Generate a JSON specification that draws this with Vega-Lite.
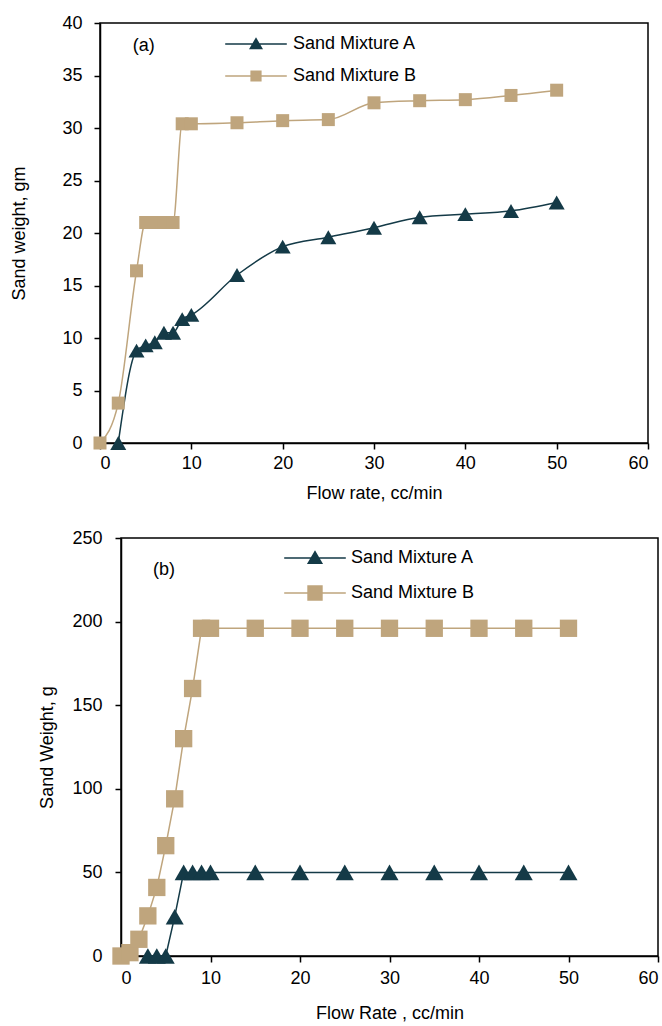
{
  "$schema": "https://vega.github.io/schema/vega-lite/v6.json",
  "padding": {"left": 0, "top": 13, "right": 0, "bottom": 0},
  "background": "white",
  "config": {
    "font": "Liberation Sans",
    "view": {"stroke": null},
    "axis": {
      "labelFont": "Liberation Sans", "labelFontSize": 18, "labelColor": "#000",
      "titleFont": "Liberation Sans", "titleFontSize": 18, "titleFontWeight": "normal", "titleColor": "#000",
      "domainColor": "#000", "domainWidth": 1.5, "tickColor": "#000", "tickWidth": 1.5, "tickSize": 6, "grid": false
    }
  },
  "datasets": {
    "top": [
      {"series": "Sand Mixture B", "flow": 0, "weight": 0},
      {"series": "Sand Mixture B", "flow": 2, "weight": 3.8},
      {"series": "Sand Mixture B", "flow": 4, "weight": 16.4},
      {"series": "Sand Mixture B", "flow": 5, "weight": 21},
      {"series": "Sand Mixture B", "flow": 6, "weight": 21},
      {"series": "Sand Mixture B", "flow": 7, "weight": 21},
      {"series": "Sand Mixture B", "flow": 8, "weight": 21},
      {"series": "Sand Mixture B", "flow": 9, "weight": 30.4},
      {"series": "Sand Mixture B", "flow": 10, "weight": 30.4},
      {"series": "Sand Mixture B", "flow": 15, "weight": 30.5},
      {"series": "Sand Mixture B", "flow": 20, "weight": 30.7},
      {"series": "Sand Mixture B", "flow": 25, "weight": 30.8},
      {"series": "Sand Mixture B", "flow": 30, "weight": 32.4},
      {"series": "Sand Mixture B", "flow": 35, "weight": 32.6},
      {"series": "Sand Mixture B", "flow": 40, "weight": 32.7},
      {"series": "Sand Mixture B", "flow": 45, "weight": 33.1},
      {"series": "Sand Mixture B", "flow": 50, "weight": 33.6},
      {"series": "Sand Mixture A", "flow": 2, "weight": 0},
      {"series": "Sand Mixture A", "flow": 4, "weight": 8.8},
      {"series": "Sand Mixture A", "flow": 5, "weight": 9.3},
      {"series": "Sand Mixture A", "flow": 6, "weight": 9.6},
      {"series": "Sand Mixture A", "flow": 7, "weight": 10.5},
      {"series": "Sand Mixture A", "flow": 8, "weight": 10.5},
      {"series": "Sand Mixture A", "flow": 9, "weight": 11.8},
      {"series": "Sand Mixture A", "flow": 10, "weight": 12.2},
      {"series": "Sand Mixture A", "flow": 15, "weight": 16.0},
      {"series": "Sand Mixture A", "flow": 20, "weight": 18.7},
      {"series": "Sand Mixture A", "flow": 25, "weight": 19.6},
      {"series": "Sand Mixture A", "flow": 30, "weight": 20.5},
      {"series": "Sand Mixture A", "flow": 35, "weight": 21.5},
      {"series": "Sand Mixture A", "flow": 40, "weight": 21.8},
      {"series": "Sand Mixture A", "flow": 45, "weight": 22.1},
      {"series": "Sand Mixture A", "flow": 50, "weight": 22.9}
    ],
    "bottom": [
      {"series": "Sand Mixture B", "flow": 0, "weight": 0},
      {"series": "Sand Mixture B", "flow": 1, "weight": 2},
      {"series": "Sand Mixture B", "flow": 2, "weight": 10},
      {"series": "Sand Mixture B", "flow": 3, "weight": 24},
      {"series": "Sand Mixture B", "flow": 4, "weight": 41},
      {"series": "Sand Mixture B", "flow": 5, "weight": 66},
      {"series": "Sand Mixture B", "flow": 6, "weight": 94},
      {"series": "Sand Mixture B", "flow": 7, "weight": 130},
      {"series": "Sand Mixture B", "flow": 8, "weight": 160},
      {"series": "Sand Mixture B", "flow": 9, "weight": 196},
      {"series": "Sand Mixture B", "flow": 10, "weight": 196},
      {"series": "Sand Mixture B", "flow": 15, "weight": 196},
      {"series": "Sand Mixture B", "flow": 20, "weight": 196},
      {"series": "Sand Mixture B", "flow": 25, "weight": 196},
      {"series": "Sand Mixture B", "flow": 30, "weight": 196},
      {"series": "Sand Mixture B", "flow": 35, "weight": 196},
      {"series": "Sand Mixture B", "flow": 40, "weight": 196},
      {"series": "Sand Mixture B", "flow": 45, "weight": 196},
      {"series": "Sand Mixture B", "flow": 50, "weight": 196},
      {"series": "Sand Mixture A", "flow": 3, "weight": 0},
      {"series": "Sand Mixture A", "flow": 4, "weight": 0},
      {"series": "Sand Mixture A", "flow": 5, "weight": 0},
      {"series": "Sand Mixture A", "flow": 6, "weight": 23.5},
      {"series": "Sand Mixture A", "flow": 7, "weight": 50},
      {"series": "Sand Mixture A", "flow": 8, "weight": 50},
      {"series": "Sand Mixture A", "flow": 9, "weight": 50},
      {"series": "Sand Mixture A", "flow": 10, "weight": 50},
      {"series": "Sand Mixture A", "flow": 15, "weight": 50},
      {"series": "Sand Mixture A", "flow": 20, "weight": 50},
      {"series": "Sand Mixture A", "flow": 25, "weight": 50},
      {"series": "Sand Mixture A", "flow": 30, "weight": 50},
      {"series": "Sand Mixture A", "flow": 35, "weight": 50},
      {"series": "Sand Mixture A", "flow": 40, "weight": 50},
      {"series": "Sand Mixture A", "flow": 45, "weight": 50},
      {"series": "Sand Mixture A", "flow": 50, "weight": 50}
    ]
  },
  "columns": 2,
  "align": "none",
  "spacing": {"column": 0, "row": 25},
  "resolve": {
    "scale": {"color": "independent", "shape": "independent", "size": "independent"},
    "legend": {"color": "independent", "shape": "independent", "size": "independent"}
  },
  "concat": [
    {
      "width": 10, "height": 1,
      "data": {"values": []},
      "mark": {"type": "point", "opacity": 0},
      "encoding": {}
    },
    {
      "width": 548, "height": 420,
      "view": {"stroke": "#000", "strokeWidth": 1.5},
      "data": {"name": "top"},
      "encoding": {
        "x": {"field": "flow", "type": "quantitative", "scale": {"domain": [0, 60], "nice": false},
              "axis": {"values": [0, 10, 20, 30, 40, 50, 60], "title": "Flow rate, cc/min", "labelPadding": 5, "titlePadding": 12}},
        "y": {"field": "weight", "type": "quantitative", "scale": {"domain": [0, 40], "nice": false},
              "axis": {"values": [0, 5, 10, 15, 20, 25, 30, 35, 40], "title": "Sand weight, gm", "labelPadding": 12, "titlePadding": 33}}
      },
      "layer": [
        {
          "mark": {"type": "line", "interpolate": "monotone", "strokeWidth": 1.5},
          "encoding": {
            "color": {"field": "series", "type": "nominal", "scale": {"range": ["#143a47", "#bfa57d"]}}
          }
        },
        {
          "mark": {"type": "point", "filled": true, "opacity": 1},
          "encoding": {
            "color": {"field": "series", "type": "nominal", "scale": {"range": ["#143a47", "#bfa57d"]},
                      "legend": {
                        "orient": "none", "legendX": 147, "legendY": 12, "title": null, "padding": 0,
                        "labelFont": "Liberation Sans", "labelFontSize": 18, "labelColor": "#000",
                        "labelOffset": 28, "rowPadding": 14, "symbolSize": 196, "symbolStrokeWidth": 0, "symbolOpacity": 1,
                        "symbolType": {"expr": "datum.value === 'Sand Mixture A' ? 'M-4.4,-0.11H4.4V0.11H-4.4ZM0,-0.95L1,0.75L-1,0.75Z' : 'M-4.4,-0.11H4.4V0.11H-4.4ZM-0.8,-0.8H0.8V0.8H-0.8Z'"}
                      }},
            "size": {"field": "series", "type": "nominal", "scale": {"domain": ["Sand Mixture A", "Sand Mixture B"], "range": [256, 169]}, "legend": null},
            "shape": {"field": "series", "type": "nominal", "scale": {"domain": ["Sand Mixture A", "Sand Mixture B"], "range": ["triangle-up", "square"]}, "legend": null}
          }
        },
        {
          "transform": [{"filter": "datum.series === 'Sand Mixture A' && datum.flow === 50"}],
          "mark": {"type": "text", "font": "Liberation Sans", "fontSize": 18, "align": "center", "baseline": "middle", "color": "#000"},
          "encoding": {"x": {"datum": 4.8}, "y": {"datum": 37.8}, "text": {"value": "(a)"}}
        }
      ]
    },
    {
      "width": 10, "height": 1,
      "data": {"values": []},
      "mark": {"type": "point", "opacity": 0},
      "encoding": {}
    },
    {
      "width": 537, "height": 418,
      "view": {"stroke": "#000", "strokeWidth": 1.5},
      "data": {"name": "bottom"},
      "encoding": {
        "x": {"field": "flow", "type": "quantitative", "scale": {"domain": [0, 60], "nice": false},
              "axis": {"values": [0, 10, 20, 30, 40, 50, 60], "title": "Flow Rate , cc/min", "labelPadding": 7, "titlePadding": 17}},
        "y": {"field": "weight", "type": "quantitative", "scale": {"domain": [0, 250], "nice": false},
              "axis": {"values": [0, 50, 100, 150, 200, 250], "title": ["", "Sand Weight, g"], "titleLineHeight": 28, "labelPadding": 13, "titlePadding": 15}}
      },
      "layer": [
        {
          "mark": {"type": "line", "strokeWidth": 1.5},
          "encoding": {
            "color": {"field": "series", "type": "nominal", "scale": {"range": ["#143a47", "#bfa57d"]}}
          }
        },
        {
          "mark": {"type": "point", "filled": true, "opacity": 1},
          "encoding": {
            "color": {"field": "series", "type": "nominal", "scale": {"range": ["#143a47", "#bfa57d"]},
                      "legend": {
                        "orient": "none", "legendX": 185, "legendY": 11, "title": null, "padding": 0,
                        "labelFont": "Liberation Sans", "labelFontSize": 18, "labelColor": "#000",
                        "labelOffset": 27, "rowPadding": 17, "symbolSize": 196, "symbolStrokeWidth": 0, "symbolOpacity": 1,
                        "symbolType": {"expr": "datum.value === 'Sand Mixture A' ? 'M-4.4,-0.11H4.4V0.11H-4.4ZM0,-1.1L1.15,0.85L-1.15,0.85Z' : 'M-4.4,-0.11H4.4V0.11H-4.4ZM-1.1,-1.1H1.1V1.1H-1.1Z'"}
                      }},
            "size": {"field": "series", "type": "nominal", "scale": {"domain": ["Sand Mixture A", "Sand Mixture B"], "range": [324, 300]}, "legend": null},
            "shape": {"field": "series", "type": "nominal", "scale": {"domain": ["Sand Mixture A", "Sand Mixture B"], "range": ["triangle-up", "square"]}, "legend": null}
          }
        },
        {
          "transform": [{"filter": "datum.series === 'Sand Mixture A' && datum.flow === 50"}],
          "mark": {"type": "text", "font": "Liberation Sans", "fontSize": 18, "align": "center", "baseline": "middle", "color": "#000"},
          "encoding": {"x": {"datum": 4.8}, "y": {"datum": 231}, "text": {"value": "(b)"}}
        }
      ]
    }
  ]
}
